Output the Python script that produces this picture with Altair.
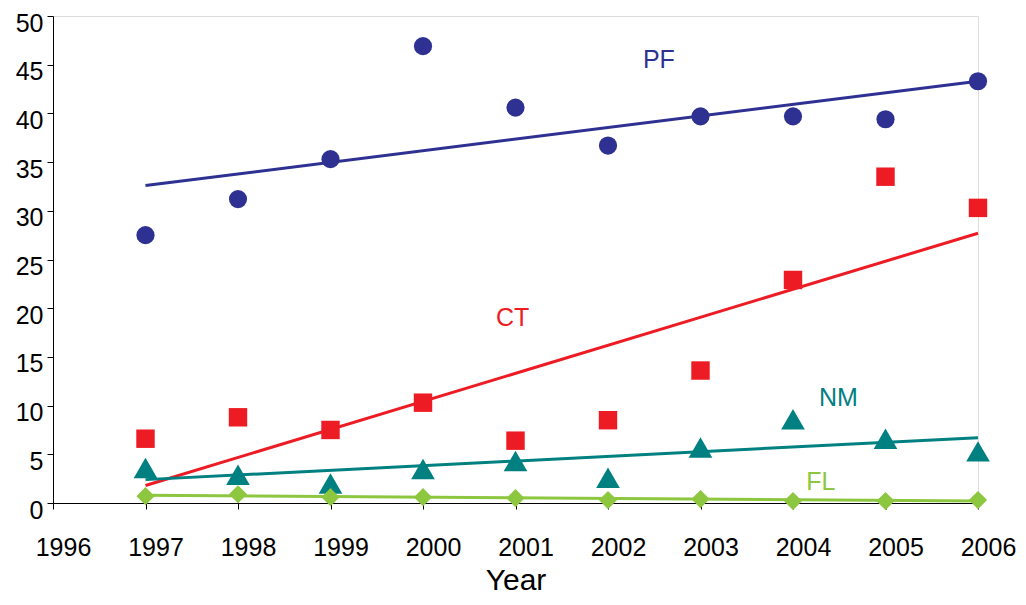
import altair as alt
import pandas as pd

years = [1997, 1998, 1999, 2000, 2001, 2002, 2003, 2004, 2005, 2006]
pf = [27.5, 31.2, 35.3, 46.9, 40.6, 36.7, 39.7, 39.7, 39.4, 43.3]
ct = [6.6, 8.8, 7.5, 10.3, 6.4, 8.5, 13.6, 22.9, 33.5, 30.3]
nm = [3.6, 2.9, 2.0, 3.5, 4.3, 2.6, 5.7, 8.6, 6.6, 5.3]
fl = [0.7, 0.9, 0.6, 0.6, 0.5, 0.3, 0.4, 0.2, 0.2, 0.3]

series = ["PF", "CT", "NM", "FL"]
colors = ["#2E3192", "#ED1C24", "#008080", "#8DC63F"]
shapes = ["circle", "square", "triangle-up", "diamond"]
sizes = [330, 340, 560, 330]

trend_years = [1997, 2006]
trend_start = [32.6, 1.8, 2.4, 0.8]
trend_end = [43.3, 27.7, 6.7, 0.2]

label_x = [2002.55, 2000.97, 2004.49, 2004.3]
label_y = [45.5, 19.0, 10.8, 2.2]

values = {"PF": pf, "CT": ct, "NM": nm, "FL": fl}
rows = []
for s in series:
    for y, v in zip(years, values[s]):
        rows.append({"series": s, "year": y, "value": v})
pts = pd.DataFrame(rows)

trows = []
for s, a, b in zip(series, trend_start, trend_end):
    trows.append({"series": s, "year": trend_years[0], "value": a})
    trows.append({"series": s, "year": trend_years[1], "value": b})
trend = pd.DataFrame(trows)

labels = pd.DataFrame({"series": series, "year": label_x, "value": label_y})

color_scale = alt.Scale(domain=series, range=colors)
shape_scale = alt.Scale(domain=series, range=shapes)
size_scale = alt.Scale(type="ordinal", domain=series, range=sizes)

x_enc = alt.X("year:Q",
              scale=alt.Scale(domain=[1996, 2006], nice=False, zero=False),
              axis=alt.Axis(values=list(range(1996, 2007)), format="d", title="Year",
                            grid=False, labelFontSize=25, titleFontSize=30,
                            titleFontWeight="normal", labelColor="black",
                            titleColor="black", domainColor="black", tickColor="black",
                            tickSize=6, labelPadding=26, labelOffset=10,
                            titlePadding=5, labelFont="Liberation Sans",
                            titleFont="Liberation Sans", labelFlush=False))
y_enc = alt.Y("value:Q",
              scale=alt.Scale(domain=[0, 50], nice=False),
              axis=alt.Axis(values=list(range(0, 51, 5)), title=None, grid=False,
                            labelFontSize=25, labelColor="black", domainColor="black",
                            tickColor="black", tickSize=6, labelPadding=4,
                            labelOffset=7,
                            labelFont="Liberation Sans", labelFlush=False))

lines = alt.Chart(trend).mark_line(strokeWidth=3).encode(
    x=x_enc, y=y_enc,
    color=alt.Color("series:N", scale=color_scale, legend=None),
    detail="series:N",
)

points = alt.Chart(pts).mark_point(filled=True, opacity=1).encode(
    x="year:Q", y="value:Q",
    color=alt.Color("series:N", scale=color_scale, legend=None),
    shape=alt.Shape("series:N", scale=shape_scale, legend=None),
    size=alt.Size("series:N", scale=size_scale, legend=None),
)

texts = alt.Chart(labels).mark_text(fontSize=25, font="Liberation Sans",
                                    align="center", baseline="middle").encode(
    x="year:Q", y="value:Q", text="series:N",
    color=alt.Color("series:N", scale=color_scale, legend=None),
)

chart = alt.layer(lines, points, texts).properties(
    width=925, height=487,
    autosize=alt.AutoSizeParams(type="none"),
    padding={"left": 45, "top": 8, "right": 40, "bottom": 94},
).configure_view(stroke=None).configure(background="white")

chart.save("out.html", embed_options={"renderer": "svg", "actions": False})
